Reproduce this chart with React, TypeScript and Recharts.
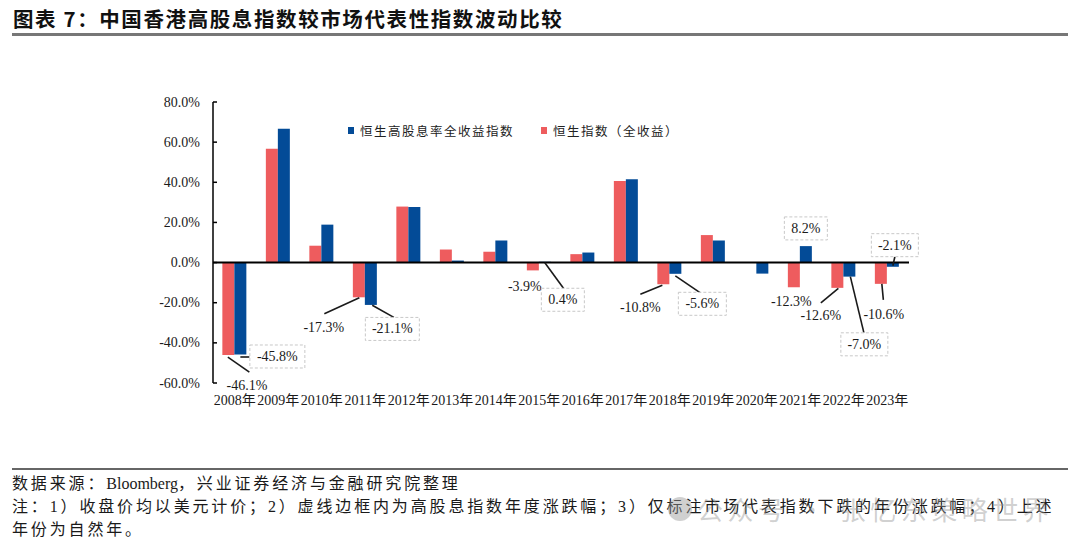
import React from 'react';
import { BarChart, Bar, XAxis, YAxis, ReferenceLine, LabelList } from 'recharts';

const years = ['2008年', '2009年', '2010年', '2011年', '2012年', '2013年', '2014年', '2015年', '2016年', '2017年', '2018年', '2019年', '2020年', '2021年', '2022年', '2023年'];
const hsiTotalReturn = [-46.1, 56.7, 8.4, -17.3, 27.9, 6.5, 5.4, -3.9, 4.2, 40.7, -10.8, 13.7, 0.3, -12.3, -12.6, -10.6];
const hsHighDivReturn = [-45.8, 66.7, 18.9, -21.1, 27.7, 1.0, 11.0, 0.4, 5.0, 41.5, -5.6, 11.0, -5.5, 8.2, -7.0, -2.1];
const yTicks = [-60, -40, -20, 0, 20, 40, 60, 80];
const SERIES_HSHD = '恒生高股息率全收益指数';
const SERIES_HSI = '恒生指数（全收益）';

const BLUE = '#034B97';
const PINK = '#EE5C5E';
const SERIF = "'Liberation Serif', 'Times New Roman', 'Noto Sans CJK SC', serif";
const CJK = "'Noto Sans CJK SC', sans-serif";

const data = years.map((year, i) => ({ year, hsi: hsiTotalReturn[i], hshd: hsHighDivReturn[i] }));

const legendItems = [
  { name: SERIES_HSHD, color: BLUE },
  { name: SERIES_HSI, color: PINK },
];

type Note = { line?: [number, number, number, number]; text: [number, number]; boxW?: number };

// annotation placement (offsets relative to the bar end), kept apart from the data
const hsiNotes: Record<string, Note> = {
  '2008年': { line: [-0.5, 2, 21, 17], text: [18.6, 30] },
  '2011年': { line: [0.5, 0.5, -34.5, 16.5], text: [-35, 30] },
  '2015年': { text: [-8, 16] },
  '2018年': { line: [-1, 1, -23, 10], text: [-23, 23.5] },
  '2021年': { text: [-2.5, 14] },
  '2022年': { line: [1, 0.5, -16.5, 15], text: [-16.5, 27.5] },
  '2023年': { line: [1, 0, 2.5, 16], text: [3, 30.5] },
};
const hshdNotes: Record<string, Note> = {
  '2008年': { line: [0, 2.5, 9, 2.5], text: [37, 2], boxW: 55 },
  '2011年': { line: [1.4, 0.4, 23, 12.5], text: [21.5, 24], boxW: 54 },
  '2015年': { line: [0, 1, 19, 27], text: [18, 38], boxW: 43 },
  '2018年': { line: [0, 2, 25, 19], text: [27, 30], boxW: 48 },
  '2021年': { text: [0, -17.7], boxW: 43 },
  '2022年': { line: [1, 0, 14.5, 56], text: [15, 67.7], boxW: 47 },
  '2023年': { line: [0, -1, 2, -10], text: [2, -21.6], boxW: 47 },
};

const makeNote = (notes: Record<string, Note>, values: number[], boxed: boolean) => (props: any) => {
  const idx: number = props.index ?? years.indexOf(props?.payload?.year);
  if (idx == null || idx < 0) return null;
  const n = notes[years[idx]];
  if (!n) return null;
  const vb = props.viewBox && props.viewBox.width != null ? props.viewBox : props;
  const x = Number(vb.x), y = Number(vb.y), w = Number(vb.width), h = Number(vb.height);
  const v = values[idx];
  const cx = x + w / 2;
  const top = Math.min(y, y + h);
  const bottom = Math.max(y, y + h);
  const ey = v >= 0 ? top : bottom;
  const tx = cx + n.text[0];
  const ty = ey + n.text[1];
  return (
    <g key={`note-${boxed ? 'b' : 'p'}-${idx}`}>
      {n.line && (
        <line x1={cx + n.line[0]} y1={ey + n.line[1]} x2={cx + n.line[2]} y2={ey + n.line[3]} stroke="#1a1a1a" strokeWidth={1.6} />
      )}
      {boxed && (
        <rect x={tx - (n.boxW ?? 48) / 2} y={ty - 11.5} width={n.boxW ?? 48} height={23} fill="#fff" stroke="#c8c8c8" strokeWidth={1} strokeDasharray="3 2" />
      )}
      <text x={tx} y={ty} textAnchor="middle" dominantBaseline="central" fontSize={14} fontFamily={SERIF} fill="#1a1a1a">
        {v.toFixed(1) + '%'}
      </text>
    </g>
  );
};

const YTick = (props: any) => {
  const { x, y, payload } = props;
  return (
    <g>
      <line x1={x} y1={y} x2={x + 4} y2={y} stroke="#000" strokeWidth={1.5} />
      <text x={x - 13} y={y} textAnchor="end" dominantBaseline="central" fontSize={14} fontFamily={SERIF} fill="#1a1a1a">
        {Number(payload.value).toFixed(1) + '%'}
      </text>
    </g>
  );
};

export default function App() {
  const footStyle: React.CSSProperties = { fontFamily: SERIF, fontSize: 16, letterSpacing: 2.85, color: '#1a1a1a', lineHeight: '23px', whiteSpace: 'nowrap' };
  return (
    <div style={{ position: 'absolute', left: 0, top: 0, width: 1080, height: 548, background: '#fff', overflow: 'hidden' }}>
      <div style={{ position: 'absolute', left: 13, top: 3, fontFamily: CJK, fontWeight: 700, fontSize: 20.5, letterSpacing: 1.6, color: '#111', whiteSpace: 'nowrap' }}>
        图表 7：中国香港高股息指数较市场代表性指数波动比较
      </div>
      <div style={{ position: 'absolute', left: 12, top: 33, width: 1056, height: 2.5, background: '#777' }} />

      <div style={{ position: 'absolute', left: 0, top: 0 }}>
        <BarChart width={1080} height={548} data={data} margin={{ top: 102, right: 171, bottom: 135, left: 153 }} barCategoryGap="21.5%" barGap={0}>
          <XAxis dataKey="year" interval={0} axisLine={false} tickLine={false} tickSize={0} tickMargin={12} height={30}
            tick={{ fontSize: 14, fontFamily: SERIF, fill: '#1a1a1a' }} />
          <YAxis domain={[-60, 80]} ticks={yTicks} width={60} tickSize={0} tickMargin={0} tickLine={false}
            axisLine={{ stroke: '#000', strokeWidth: 1.5 }} tick={<YTick />} />
          <Bar dataKey="hsi" name={SERIES_HSI} fill={PINK} isAnimationActive={false}>
            <LabelList dataKey="hsi" content={makeNote(hsiNotes, hsiTotalReturn, false)} />
          </Bar>
          <Bar dataKey="hshd" name={SERIES_HSHD} fill={BLUE} isAnimationActive={false}>
            <LabelList dataKey="hshd" content={makeNote(hshdNotes, hsHighDivReturn, true)} />
          </Bar>
          <ReferenceLine y={0} stroke="#000" strokeWidth={2} ifOverflow="extendDomain" />
        </BarChart>
      </div>

      <div style={{ position: 'absolute', left: 348, top: 121, display: 'flex', alignItems: 'center' }}>
        {legendItems.map((it, i) => (
          <div key={i} style={{ display: 'flex', alignItems: 'center', marginRight: i === 0 ? 27 : 0 }}>
            <div style={{ width: 6, height: 7, background: it.color, marginRight: 6 }} />
            <span style={{ fontFamily: CJK, fontSize: 12.5, letterSpacing: 1.5, color: '#222' }}>{it.name}</span>
          </div>
        ))}
      </div>

      <div style={{ position: 'absolute', left: 12, top: 468, width: 1056, height: 2, background: '#666' }} />
      <div style={{ position: 'absolute', left: 12, top: 472, ...footStyle }}>
        <div>数据来源：<span style={{ letterSpacing: 0 }}>Bloomberg</span>，兴业证券经济与金融研究院整理</div>
        <div>注：1）收盘价均以美元计价；2）虚线边框内为高股息指数年度涨跌幅；3）仅标注市场代表指数下跌的年份涨跌幅；4）上述</div>
        <div>年份为自然年。</div>
      </div>
      <div style={{ position: 'absolute', left: 668, top: 497, width: 24, height: 24, borderRadius: 12, background: 'rgba(150,150,150,0.45)' }} />
      <div style={{ position: 'absolute', left: 697, top: 490, fontFamily: CJK, fontSize: 26, letterSpacing: 4.5, color: 'rgba(150,150,150,0.45)', whiteSpace: 'nowrap' }}>
        公众号 · 张忆东策略世界
      </div>
    </div>
  );
}
